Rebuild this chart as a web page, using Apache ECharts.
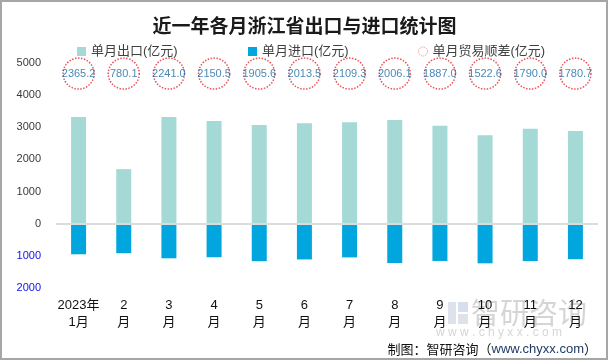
<!DOCTYPE html>
<html>
<head>
<meta charset="utf-8">
<script src="https://cdn.jsdelivr.net/npm/echarts@6/dist/echarts.min.js"></script>
<style>html,body{margin:0;padding:0;background:#fff}#c{width:609px;height:361px}</style>
</head>
<body>
<div id="c"></div>
<script>
const categories = ['2023年\n1月','2\n月','3\n月','4\n月','5\n月','6\n月','7\n月','8\n月','9\n月','10\n月','11\n月','12\n月'];
const exportVals = [3317, 1698, 3317, 3194, 3071, 3125, 3158, 3230, 3046, 2755, 2951, 2884];
const importVals = [951, 918, 1076, 1043, 1166, 1112, 1048, 1224, 1159, 1232, 1161, 1103];
const surplusVals = [2365.2, 780.1, 2241.0, 2150.5, 1905.6, 2013.5, 2109.3, 2006.1, 1887.0, 1522.6, 1790.0, 1780.7];
const yTicks = { min: -2000, max: 5000, interval: 1000 };
const circleLevel = 4670;

const latin = 'Liberation Sans, Arial, Noto Sans CJK SC, sans-serif';
const chart = echarts.init(document.getElementById('c'));
chart.setOption({
  animation: false,
  backgroundColor: '#fff',
  title: {
    text: '近一年各月浙江省出口与进口统计图',
    left: 'center', top: 11,
    textStyle: { fontFamily: 'Noto Sans CJK SC', fontWeight: 'bold', fontSize: 19, color: '#1a1a1a' }
  },
  legend: [
    { left: 72, top: 40, itemWidth: 9, itemHeight: 9, itemGap: 0, data: [{ name: '单月出口(亿元)', icon: 'rect' }], textStyle: { fontSize: 13, color: '#404040', fontFamily: latin } },
    { left: 243, top: 40, itemWidth: 9, itemHeight: 9, data: [{ name: '单月进口(亿元)', icon: 'rect' }], textStyle: { fontSize: 13, color: '#404040', fontFamily: latin } },
    { left: 413, top: 40, itemWidth: 9, itemHeight: 9,
      data: [{ name: '单月贸易顺差(亿元)', icon: 'circle', itemStyle: { color: '#fff', borderColor: '#e86a6f', borderWidth: 1, borderType: 'dotted' } }],
      textStyle: { fontSize: 13, color: '#404040', fontFamily: latin } }
  ],
  grid: { left: 56, right: 11, top: 63, bottom: 73, containLabel: false },
  xAxis: {
    type: 'category',
    data: categories,
    position: 'bottom',
    axisLine: { show: false },
    axisTick: { show: false },
    axisLabel: { margin: 9, fontSize: 13, lineHeight: 17, color: '#111', fontFamily: latin, interval: 0 }
  },
  yAxis: {
    type: 'value',
    min: yTicks.min, max: yTicks.max, interval: yTicks.interval,
    axisLine: { show: false },
    axisTick: { show: false },
    splitLine: { show: false },
    axisLabel: {
      margin: 15, fontSize: 11, fontFamily: latin,
      formatter: v => String(Math.abs(v)),
      color: v => (Number(v) < 0 ? '#1010ee' : '#3a3a3a')
    }
  },
  series: [
    {
      name: '单月出口(亿元)', type: 'bar', stack: 'trade', barWidth: 15,
      itemStyle: { color: '#a4d9d6' },
      data: exportVals,
      markLine: {
        silent: true, symbol: 'none', label: { show: false },
        lineStyle: { color: '#dcdcdc', width: 2, type: 'solid' },
        data: [{ yAxis: 0 }]
      },
      z: 2
    },
    {
      name: '单月进口(亿元)', type: 'bar', stack: 'trade', barWidth: 15,
      itemStyle: { color: '#00a6dd' },
      data: importVals.map(v => -v),
      z: 2
    },
    {
      name: '单月贸易顺差(亿元)', type: 'scatter', symbol: 'circle', symbolSize: 31,
      itemStyle: { color: 'rgba(255,255,255,0)', borderColor: '#e3262e', borderWidth: 1.5, borderType: 'dotted' },
      label: {
        show: true, position: 'inside', fontSize: 11, fontFamily: latin, color: '#1b6aa3',
        formatter: p => p.data[2].toFixed(1)
      },
      data: surplusVals.map((s, i) => [i, circleLevel, s]),
      z: 3
    }
  ],
  graphic: [
    { type: 'rect', z: -10, shape: { x: 448, y: 302, width: 8, height: 22 }, style: { fill: 'rgba(170,182,205,0.4)' } },
    { type: 'rect', z: -10, shape: { x: 458, y: 302, width: 10, height: 10 }, style: { fill: 'rgba(120,150,200,0.3)' } },
    { type: 'rect', z: -10, shape: { x: 458, y: 314, width: 10, height: 10 }, style: { fill: 'rgba(170,182,205,0.4)' } },
    { type: 'text', z: -10, left: 471, top: 298, style: { text: '智研咨询', fontSize: 29, fontFamily: 'Noto Sans CJK SC', fill: 'rgba(150,150,150,0.4)' } },
    { type: 'text', z: -10, left: 436, top: 327, style: { text: 'w w w . c h y x x . c o m', fontSize: 12, fontFamily: latin, fill: 'rgba(150,150,150,0.4)' } },
    {
      type: 'text', right: 12, top: 343,
      style: {
        text: '{a|制图：智研咨询（}{b|www.chyxx.com}{a|）}',
        rich: {
          a: { fontSize: 13, fontFamily: 'Noto Sans CJK SC', fill: '#111' },
          b: { fontSize: 13, fontFamily: latin, fill: '#1f3a66' }
        }
      }
    },
    { type: 'rect', shape: { x: 1, y: 1, width: 606, height: 358 }, style: { fill: 'none', stroke: '#a6a6a6', lineWidth: 2 } }
  ]
});
</script>
</body>
</html>
